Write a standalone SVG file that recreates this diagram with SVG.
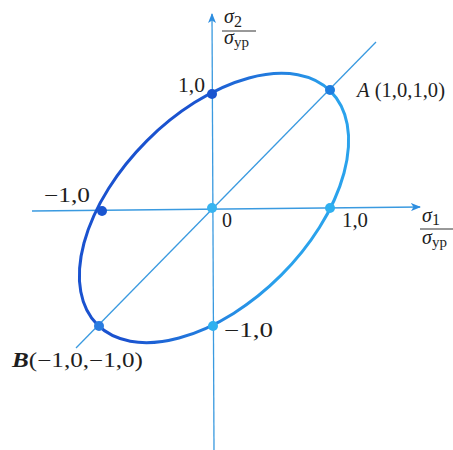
<svg xmlns="http://www.w3.org/2000/svg" width="453" height="450" viewBox="0 0 453 450">
<style>
.ax{stroke:#3a9ae0;stroke-width:1.3;fill:none}
.t{font-family:"Liberation Serif","Times New Roman",serif;font-size:20px;fill:#1e1e1e}
.i{font-style:italic}
.dk{fill:#1a55d0}
.lt{fill:#2fb0f0}
</style>
<defs>
<linearGradient id="eg" x1="0" y1="0" x2="1" y2="1">
<stop offset="0.35" stop-color="#1a52cf"/>
<stop offset="0.75" stop-color="#2aa2ec"/>
</linearGradient>
<marker id="ar" viewBox="0 0 10 8" refX="9" refY="4" markerWidth="10" markerHeight="8" markerUnits="userSpaceOnUse" orient="auto">
<path d="M0,0 L10,4 L0,8 L2.5,4 Z" fill="#2e8ee0"/>
</marker>
</defs>
<rect width="453" height="450" fill="#ffffff"/>
<g id="connectors">
<line class="ax" x1="32" y1="211" x2="420" y2="207" marker-end="url(#ar)"/>
<line class="ax" x1="214" y1="450" x2="212" y2="14" marker-end="url(#ar)"/>
<line class="ax" x1="76" y1="348" x2="376" y2="42"/>
</g>
<g id="ellipse">
<ellipse cx="214" cy="208" rx="165" ry="95" transform="rotate(-45 214 208)" fill="none" stroke="url(#eg)" stroke-width="3"/>
</g>
<g id="p01"><circle class="dk" cx="212" cy="94" r="5"/><text class="t" x="178" y="92" textLength="27" lengthAdjust="spacingAndGlyphs">1,0</text></g>
<g id="pA"><circle cx="330" cy="90" r="5" fill="#1e7ee0"/><text class="t" x="357" y="97" textLength="88" lengthAdjust="spacingAndGlyphs"><tspan class="i">A</tspan> (1,0,1,0)</text></g>
<g id="pm10"><circle class="dk" cx="102" cy="211" r="5"/><text class="t" x="44" y="202" textLength="46" lengthAdjust="spacingAndGlyphs">−1,0</text></g>
<g id="p0"><circle cx="212" cy="208" r="5" fill="#38b4f0"/><text class="t" x="222" y="227">0</text></g>
<g id="p10"><circle class="lt" cx="330" cy="208" r="5"/><text class="t" x="342" y="227" textLength="26" lengthAdjust="spacingAndGlyphs">1,0</text></g>
<g id="p0m1"><circle class="lt" cx="213" cy="326" r="5"/><text class="t" x="224" y="337" textLength="49" lengthAdjust="spacingAndGlyphs">−1,0</text></g>
<g id="pB"><circle cx="99" cy="326" r="5" fill="#2a7ce0"/><text class="t" x="12" y="367" textLength="131" lengthAdjust="spacingAndGlyphs"><tspan font-weight="bold" class="i">B</tspan>(−1,0,−1,0)</text></g>
<g id="ylabel">
<text class="t i" x="224" y="23" font-size="21">σ<tspan font-style="normal" font-size="16" dy="4">2</tspan></text>
<line x1="222" y1="31" x2="256" y2="31" stroke="#333" stroke-width="1"/>
<text class="t i" x="224" y="44" font-size="21">σ<tspan font-style="normal" font-size="15" dy="3">yp</tspan></text>
</g>
<g id="xlabel">
<text class="t i" x="422" y="222" font-size="21">σ<tspan font-style="normal" font-size="16" dy="3">1</tspan></text>
<line x1="420" y1="229" x2="453" y2="229" stroke="#333" stroke-width="1"/>
<text class="t i" x="422" y="244" font-size="21">σ<tspan font-style="normal" font-size="15" dy="3">yp</tspan></text>
</g>
</svg>
